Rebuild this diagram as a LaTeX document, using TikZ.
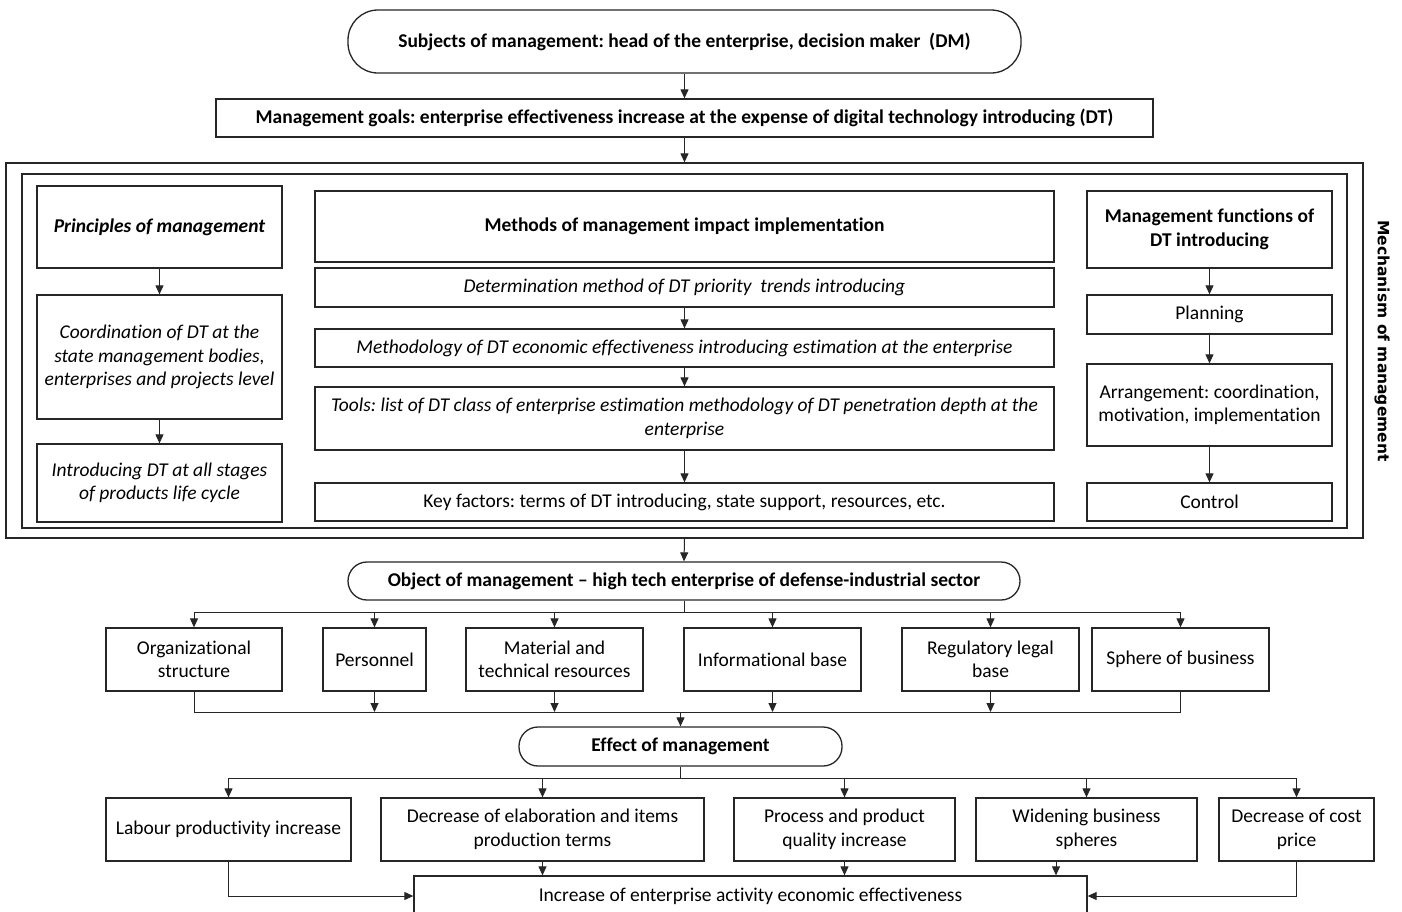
\documentclass[tikz,border=0pt]{standalone}
\usepackage{fontspec}
\setmainfont{Carlito}[Ligatures=NoCommon]
\newfontfamily\dejavu{DejaVu Sans}
\usetikzlibrary{arrows.meta}
\frenchspacing
\tikzset{
  box/.style={draw=black!85, line width=1.3pt, inner sep=0pt, align=center,
    font=\fontsize{19.5}{23.5}\selectfont},
  rbox/.style={box, rounded corners=#1},
  frame/.style={draw=black!85, line width=1.3pt, inner sep=0pt},
  conn/.style={draw=black!85, line width=1pt},
  arr/.style={conn, -{Triangle[length=9pt,width=8pt]}},
}
\begin{document}
\begin{tikzpicture}[x=1pt,y=-1pt]
\useasboundingbox[fill=white] (0,0) rectangle (1402,911);
% top
\node[rbox=30pt, minimum width=673pt, minimum height=63pt] (subj) at (684.5,41.5) {\bfseries Subjects of management: head of the enterprise, decision maker\ \ (DM)};
\node[box, minimum width=937pt, minimum height=38pt] (goals) at (684.5,118) {\bfseries Management goals: enterprise effectiveness increase at the expense of digital technology introducing (DT)};
% mechanism frames
\node[frame, minimum width=1357pt, minimum height=375pt] (outer) at (684.5,350.5) {};
\node[frame, minimum width=1325pt, minimum height=354pt] (inner) at (684.5,351) {};
% principles column
\node[box, minimum width=245pt, minimum height=82pt] (princ) at (159.5,227) {\bfseries\itshape Principles of management};
\node[box, minimum width=245pt, minimum height=124pt] (coord) at (159.5,357) {\itshape Coordination of DT at the\\\itshape state management bodies,\\\itshape enterprises and projects level};
\node[box, minimum width=245pt, minimum height=78pt] (intro) at (159.5,483) {\itshape Introducing DT at all stages\\\itshape of products life cycle};
% methods column
\node[box, minimum width=739pt, minimum height=71pt] (meth) at (684.5,226.5) {\bfseries Methods of management impact implementation};
\node[box, minimum width=739pt, minimum height=39pt] (determ) at (684.5,287.5) {\itshape Determination method of DT priority\ \ trends introducing};
\node[box, minimum width=739pt, minimum height=38pt] (methodol) at (684.5,348) {\itshape Methodology of DT economic effectiveness introducing estimation at the enterprise};
\node[box, minimum width=739pt, minimum height=63pt] (tools) at (684.5,418.5) {\itshape Tools: list of DT class of enterprise estimation methodology of DT penetration depth at the\\\itshape enterprise};
\node[box, minimum width=739pt, minimum height=38pt] (key) at (684.5,502) {Key factors: terms of DT introducing, state support, resources, etc.};
% functions column
\node[box, minimum width=245pt, minimum height=77pt] (func) at (1209.5,229.5) {\bfseries Management functions of\\\bfseries DT introducing};
\node[box, minimum width=245pt, minimum height=39pt] (plan) at (1209.5,314.5) {Planning};
\node[box, minimum width=245pt, minimum height=82pt] (arrange) at (1209.5,405) {Arrangement: coordination,\\motivation, implementation};
\node[box, minimum width=245pt, minimum height=38pt] (control) at (1209.5,502) {Control};
\node[rotate=-90, inner sep=0pt, font=\dejavu\bfseries\fontsize{15.5}{18}\selectfont] (mechlabel) at (1382,341) {Mechanism of management};
% object
\node[rbox=19pt, minimum width=672pt, minimum height=38pt] (object) at (684,581) {\bfseries Object of management -- high tech enterprise of defense-industrial sector};
\node[box, minimum width=176pt, minimum height=63pt] (org) at (194,659.5) {Organizational\\structure};
\node[box, minimum width=103pt, minimum height=63pt] (pers) at (374.5,659.5) {Personnel};
\node[box, minimum width=177pt, minimum height=63pt] (mat) at (554.5,659.5) {Material and\\technical resources};
\node[box, minimum width=177pt, minimum height=63pt] (info) at (772.5,659.5) {Informational base};
\node[box, minimum width=177pt, minimum height=63pt] (reg) at (990.5,659.5) {Regulatory legal\\base};
\node[box, minimum width=177pt, minimum height=63pt] (sphere) at (1180.5,659.5) {Sphere of business};
% effect
\node[rbox=19pt, minimum width=323pt, minimum height=39pt] (effect) at (680.5,746.5) {\bfseries Effect of management};
\node[box, minimum width=245pt, minimum height=63pt] (labour) at (228.5,829.5) {Labour productivity increase};
\node[box, minimum width=323pt, minimum height=63pt] (decel) at (542.5,829.5) {Decrease of elaboration and items\\production terms};
\node[box, minimum width=221pt, minimum height=63pt] (proc) at (844.5,829.5) {Process and product\\quality increase};
\node[box, minimum width=221pt, minimum height=63pt] (widen) at (1086.5,829.5) {Widening business\\spheres};
\node[box, minimum width=155pt, minimum height=63pt] (cost) at (1296.5,829.5) {Decrease of cost\\price};
\node[box, minimum width=673pt, minimum height=40pt] (final) at (750.5,896) {Increase of enterprise activity economic effectiveness};
% coordinates for branch lines
\coordinate (b1) at (684,612);
\coordinate (m1) at (684,712);
\coordinate (b2) at (680.5,778);
% connectors top
\draw[arr] (subj.south) -- (goals.north);
\draw[arr] (goals.south) -- (outer.north);
\draw[arr] (princ.south) -- (coord.north);
\draw[arr] (coord.south) -- (intro.north);
\draw[arr] (determ.south) -- (methodol.north);
\draw[arr] (methodol.south) -- (tools.north);
\draw[arr] (tools.south) -- (key.north);
\draw[arr] (func.south) -- (plan.north);
\draw[arr] (plan.south) -- (arrange.north);
\draw[arr] (arrange.south) -- (control.north);
\draw[arr] (outer.south) -- (object.north);
% object branch
\draw[conn] (object.south) -- (b1);
\draw[conn] (org.north |- b1) -- (sphere.north |- b1);
\foreach \n in {org,pers,mat,info,reg,sphere}{
  \draw[arr] (\n.north |- b1) -- (\n.north);
}
% merge
\draw[conn] (org.south) -- (org.south |- m1) -- (sphere.south |- m1) -- (sphere.south);
\foreach \n in {pers,mat,info,reg}{
  \draw[arr] (\n.south) -- (\n.south |- m1);
}
\draw[arr] (effect.north |- m1) -- (effect.north);
% effect branch
\draw[conn] (effect.south) -- (b2);
\draw[conn] (labour.north |- b2) -- (cost.north |- b2);
\foreach \n in {labour,decel,proc,widen,cost}{
  \draw[arr] (\n.north |- b2) -- (\n.north);
}
% to final
\draw[arr] (decel.south) -- (decel.south |- final.north);
\draw[arr] (proc.south) -- (proc.south |- final.north);
\draw[arr] ([xshift=-30.5pt]widen.south) -- ([xshift=-30.5pt]widen.south |- final.north);
\draw[arr] (labour.south) |- (final.west);
\draw[arr] (cost.south) |- (final.east);
\end{tikzpicture}
\end{document}
